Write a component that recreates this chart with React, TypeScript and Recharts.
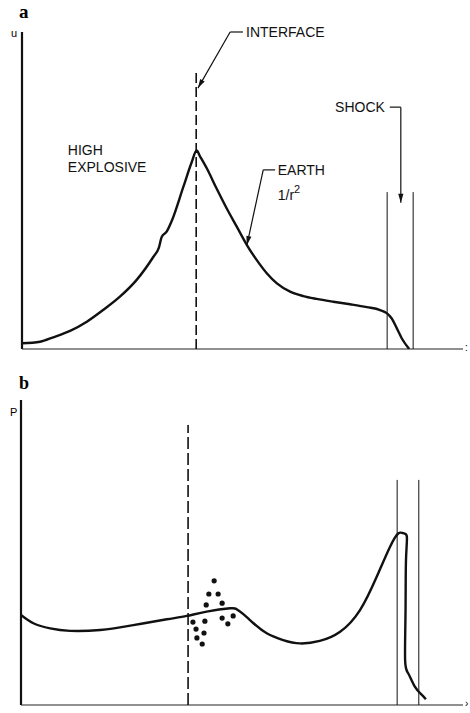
import React from 'react';
import { ComposedChart, Line, Scatter, XAxis, YAxis, ReferenceLine, ReferenceDot } from 'recharts';

// panel a: particle velocity u against radius (0..100 on both axes)
const uX = [0, 4.1, 7.1, 10.9, 14.7, 18.4, 22.2, 26.0, 29.8, 31.0, 31.7, 32.8, 33.9, 36.6, 38.5, 39.6, 40.4, 41.9, 44.1, 46.4, 48.7, 51.0, 53.2, 55.5, 57.8, 60.8, 63.8, 66.8, 70.6, 74.4, 78.2, 81.2, 82.7, 83.8, 85.0, 86.1, 87.8];
const uVal = [1.8, 2.3, 3.7, 5.7, 8.6, 12.3, 16.5, 21.8, 29.1, 31.8, 35.4, 37.0, 40.2, 51.2, 59.0, 62.6, 60.7, 57.0, 50.7, 44.4, 38.6, 32.8, 28.1, 23.9, 20.7, 18.1, 16.7, 15.8, 14.9, 14.1, 13.2, 12.3, 11.3, 9.7, 6.5, 3.4, 0];

// panel b: pressure P against radius
const pX = [0, 2.8, 6.6, 11.1, 17.9, 25.4, 33.0, 37.5, 42.0, 47.3, 48.8, 50.3, 52.6, 55.6, 59.3, 63.1, 67.6, 72.2, 76.7, 80.5, 83.5, 85.4, 86.5, 87.3, 87.1, 87.0, 86.9, 87.6, 89.1, 90.7, 91.6];
const pVal = [29.5, 26.8, 25.1, 24.3, 24.6, 26.2, 28.1, 29.2, 30.6, 31.7, 31.4, 29.8, 26.8, 23.5, 21.3, 20.2, 21.0, 24.0, 31.1, 42.1, 51.9, 56.3, 56.3, 55.2, 47.5, 31.1, 14.8, 10.4, 6.0, 3.3, 1.9];

// scattered points around the interface in panel b
const dotX = [43.7, 42.5, 44.6, 41.9, 45.5, 38.9, 41.6, 45.5, 48.0, 39.6, 46.8, 41.4, 39.8, 41.0];
const dotY = [40.7, 36.4, 36.4, 32.8, 33.4, 27.2, 27.5, 28.5, 29.2, 24.9, 26.6, 23.6, 22.0, 20.0];

// marker lines: interface and the two shock bounds
const interfaceA = { x: 39.5, top: 87.1 };
const shockA = [82.8, 88.7];
const shockTopA = 49.5;
const interfaceB = { x: 37.8, top: 91.8 };
const shockB = [85.1, 90.0];
const shockTopB = 73.8;

const zip = (xs: number[], ys: number[]) => xs.map((x, i) => ({ x, y: ys[i] }));
const curveA = zip(uX, uVal);
const curveB = zip(pX, pVal);
const dots = zip(dotX, dotY);

const FONT = '"Liberation Sans", Arial, sans-serif';

const textAt = (content: React.ReactNode) => (p: any) => (
  <text x={p.cx} y={p.cy} dominantBaseline="central" fontFamily={FONT} fontSize={14} fill="#111">
    {content}
  </text>
);

const arrowHead = (angle: number) => (p: any) => (
  <path d="M0,0 L-9,-2.6 L-9,2.6 Z" transform={`translate(${p.cx},${p.cy}) rotate(${angle})`} fill="#111" />
);

const seg = (x1: number, y1: number, x2: number, y2: number, key: string, w = 1.2) => (
  <ReferenceLine key={key} segment={[{ x: x1, y: y1 }, { x: x2, y: y2 }]} stroke="#111" strokeWidth={w} ifOverflow="visible" />
);

// hidden scales, plain axis lines drawn along x=0 and y=0
const axes = (
  <>
    <XAxis type="number" dataKey="x" domain={[0, 100]} allowDataOverflow hide />
    <YAxis type="number" dataKey="y" domain={[0, 100]} allowDataOverflow hide />
    <ReferenceLine x={0} stroke="#111" strokeWidth={2.2} ifOverflow="visible" />
    <ReferenceLine y={0} stroke="#222" strokeWidth={1.2} ifOverflow="visible" />
  </>
);

const PanelA = () => (
  <ComposedChart width={470} height={360} margin={{ top: 32, right: 7, bottom: 11, left: 22 }}>
    {axes}
    <ReferenceLine segment={[{ x: interfaceA.x, y: 0 }, { x: interfaceA.x, y: interfaceA.top }]} stroke="#111" strokeWidth={1.6} strokeDasharray="10 4" ifOverflow="visible" />
    {shockA.map((x, i) => seg(x, 0, x, shockTopA, 'sa' + i, 1))}
    <Line data={curveA} dataKey="y" type="monotone" stroke="#111" strokeWidth={2.4} dot={false} isAnimationActive={false} />
    <ReferenceDot x={10.4} y={62.8} ifOverflow="visible" shape={textAt('HIGH')} />
    <ReferenceDot x={10.4} y={57.4} ifOverflow="visible" shape={textAt('EXPLOSIVE')} />
    <ReferenceDot x={50.8} y={100} ifOverflow="visible" shape={textAt('INTERFACE')} />
    {seg(47.2, 100, 50.1, 100, 'i1')}
    {seg(47.2, 100, 39.9, 82.3, 'i2')}
    <ReferenceDot x={39.9} y={82.3} ifOverflow="visible" shape={arrowHead(119.7)} />
    <ReferenceDot x={58.0} y={56.5} ifOverflow="visible" shape={textAt('EARTH')} />
    <ReferenceDot x={58.0} y={48.6} ifOverflow="visible" shape={textAt(<>1/r<tspan dy={-6} fontSize={11}>2</tspan></>)} />
    {seg(54.7, 56.5, 57.4, 56.5, 'e1')}
    {seg(54.7, 56.5, 51.0, 32.8, 'e2')}
    <ReferenceDot x={51.0} y={32.8} ifOverflow="visible" shape={arrowHead(102.6)} />
    <ReferenceDot x={71.0} y={76.3} ifOverflow="visible" shape={textAt('SHOCK')} />
    {seg(83.4, 76.3, 85.9, 76.3, 's1')}
    {seg(85.9, 76.3, 85.9, 46.1, 's2')}
    <ReferenceDot x={85.9} y={46.1} ifOverflow="visible" shape={arrowHead(90)} />
  </ComposedChart>
);

const PanelB = () => (
  <ComposedChart width={470} height={353} margin={{ top: 40, right: 7, bottom: 8, left: 21 }}>
    {axes}
    <ReferenceLine segment={[{ x: interfaceB.x, y: 0 }, { x: interfaceB.x, y: interfaceB.top }]} stroke="#111" strokeWidth={1.6} strokeDasharray="12 4" ifOverflow="visible" />
    {shockB.map((x, i) => seg(x, 0, x, shockTopB, 'sb' + i, 1))}
    <Line data={curveB} dataKey="y" type="natural" stroke="#111" strokeWidth={2.4} dot={false} isAnimationActive={false} />
    <Scatter data={dots} fill="#111" isAnimationActive={false} shape={(p: any) => <circle cx={p.cx} cy={p.cy} r={2.6} fill="#111" />} />
  </ComposedChart>
);

const tag = (extra: React.CSSProperties): React.CSSProperties => ({ position: 'absolute', lineHeight: 1, ...extra });

export default function App() {
  return (
    <div style={{ position: 'absolute', left: 0, top: 0, width: 470, height: 713, background: '#fff' }}>
      <div style={{ position: 'absolute', left: 0, top: 0 }}><PanelA /></div>
      <div style={{ position: 'absolute', left: 0, top: 360 }}><PanelB /></div>
      <div style={tag({ left: 19, top: 2, fontFamily: '"Liberation Serif", serif', fontWeight: 'bold', fontSize: 19 })}>a</div>
      <div style={tag({ left: 11, top: 28, fontFamily: FONT, fontSize: 11 })}>u</div>
      <div style={tag({ left: 465, top: 343, fontFamily: FONT, fontSize: 10 })}>:</div>
      <div style={tag({ left: 19, top: 374, fontFamily: '"Liberation Serif", serif', fontWeight: 'bold', fontSize: 18 })}>b</div>
      <div style={tag({ left: 10, top: 407, fontFamily: FONT, fontSize: 11 })}>P</div>
      <div style={tag({ left: 465, top: 699, fontFamily: FONT, fontSize: 10 })}>›</div>
    </div>
  );
}
